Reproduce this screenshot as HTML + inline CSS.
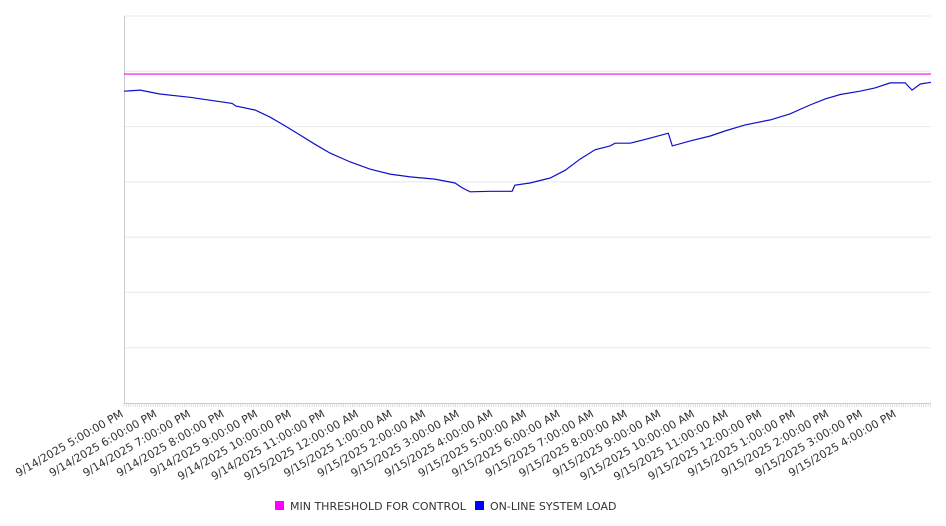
<!DOCTYPE html>
<html><head><meta charset="utf-8"><style>
body{margin:0;background:#fff;}
svg{display:block;font-family:"DejaVu Sans","Liberation Sans",sans-serif;}
</style></head><body>
<svg id="chart" width="946" height="526"></svg>
<script>
const minutes=[0,29,64,118,193,200,234,261,288,314,341,368,404,439,475,511,555,591,604,618,654,693,698,725,761,788,814,841,868,877,904,939,972,979,1011,1047,1073,1109,1154,1189,1225,1252,1279,1314,1341,1368,1395,1407,1422,1441];
const loadValues=[56.4,56.6,55.9,55.3,54.2,53.7,53.0,51.7,50.1,48.5,46.8,45.2,43.6,42.3,41.4,40.9,40.5,39.8,38.9,38.2,38.3,38.3,39.4,39.8,40.7,42.1,44.1,45.8,46.5,47.0,47.0,47.9,48.8,46.5,47.4,48.3,49.2,50.3,51.2,52.3,53.9,55.0,55.8,56.4,57.0,57.9,57.9,56.6,57.7,58.0];
const thresholdValue=59.5;
const tickLabels=["9/14/2025 5:00:00 PM","9/14/2025 6:00:00 PM","9/14/2025 7:00:00 PM","9/14/2025 8:00:00 PM","9/14/2025 9:00:00 PM","9/14/2025 10:00:00 PM","9/14/2025 11:00:00 PM","9/15/2025 12:00:00 AM","9/15/2025 1:00:00 AM","9/15/2025 2:00:00 AM","9/15/2025 3:00:00 AM","9/15/2025 4:00:00 AM","9/15/2025 5:00:00 AM","9/15/2025 6:00:00 AM","9/15/2025 7:00:00 AM","9/15/2025 8:00:00 AM","9/15/2025 9:00:00 AM","9/15/2025 10:00:00 AM","9/15/2025 11:00:00 AM","9/15/2025 12:00:00 PM","9/15/2025 1:00:00 PM","9/15/2025 2:00:00 PM","9/15/2025 3:00:00 PM","9/15/2025 4:00:00 PM"];

const NS="http://www.w3.org/2000/svg";
const svg=document.getElementById('chart');
const L=124,R=931,T=16,B=403,yMax=70,totalMin=1441;
const xs=m=>L+m*(R-L)/totalMin;
const ys=v=>B-v*(B-T)/yMax;
function el(t,a){const e=document.createElementNS(NS,t);for(const k in a)e.setAttribute(k,a[k]);svg.appendChild(e);return e;}

for(let v=10;v<=70;v+=10){
  const g=el('line',{x1:L,x2:R,y1:ys(v),y2:ys(v),stroke:'#e8e8e8','stroke-width':1});
  
  
}
const ya=el('line',{x1:L+.5,x2:L+.5,y1:T,y2:B,stroke:'#ccc'});


const xa=el('line',{x1:L,x2:R,y1:B+.5,y2:B+.5,stroke:'#ccc'});


for(let m=0;m<=totalMin;m+=4){
  const t=el('line',{x1:xs(m),x2:xs(m),y1:B,y2:B+4,stroke:'#ccc','stroke-width':0.6});
  
  
}
tickLabels.forEach((s,i)=>{
  const x=xs(i*60),y=B+13;
  const t=el('text',{x:x,y:y,'text-anchor':'end','font-size':11,fill:'#333',transform:`rotate(-30 ${x} ${y})`});
  t.textContent=s;
  
  
});
const th=el('line',{x1:L,x2:R,y1:ys(thresholdValue),y2:ys(thresholdValue),stroke:'#e010e0','stroke-width':1.2});


const pts=minutes.map((m,i)=>xs(m).toFixed(1)+','+ys(loadValues[i]).toFixed(1)).join(' ');
const ln=el('polyline',{points:pts,fill:'none',stroke:'#1010c8','stroke-width':1.2});



const lg=[['#ff00ff','MIN THRESHOLD FOR CONTROL',275,'legend-threshold'],['#0000ff','ON-LINE SYSTEM LOAD',475,'legend-load']];
lg.forEach(d=>{
  const r=el('rect',{x:d[2],y:501,width:9,height:9,fill:d[0]});
  
  
  const t=el('text',{x:d[2]+15,y:510,'font-size':11,fill:'#333'});
  t.textContent=d[1];
  
  
});
</script>
</body></html>
